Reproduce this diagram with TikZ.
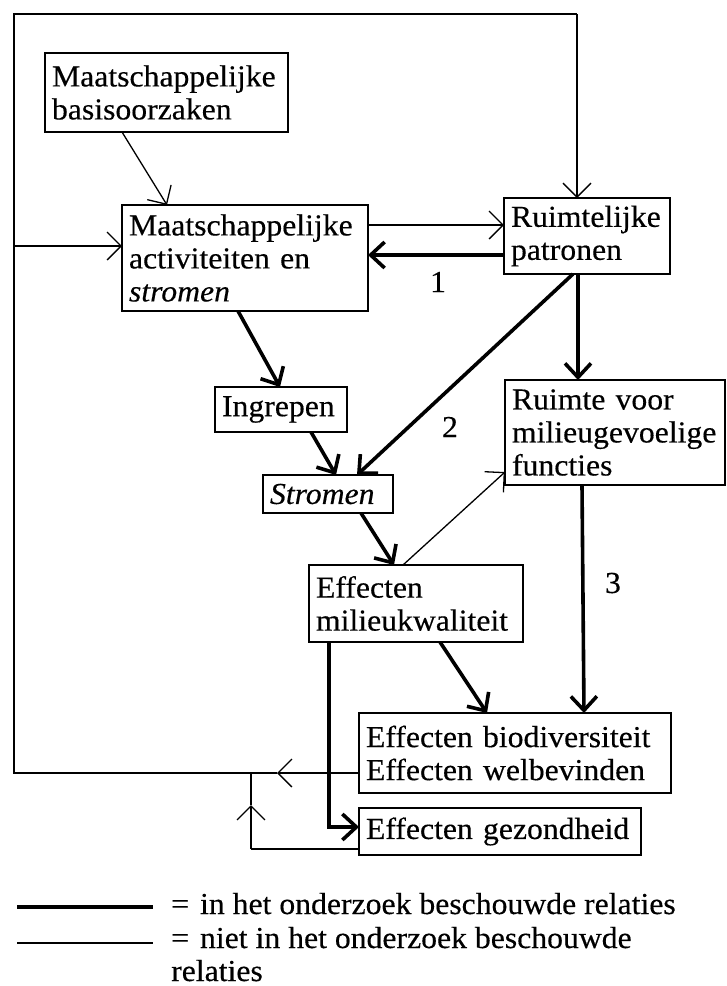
\documentclass[tikz,border=0pt]{standalone}
\usepackage{fontspec}
\setmainfont{Liberation Serif}[FakeStretch=1.04,FakeBold=0.35]
\usetikzlibrary{arrows.meta}
\hyphenpenalty=10000
\exhyphenpenalty=10000
\begin{document}
\begin{tikzpicture}[x=1pt,y=-1pt,
  txt/.style={font=\fontsize{30.5}{33}\selectfont},
  box/.style={txt, draw, line width=2.3pt, anchor=north west, align=left,
    inner xsep=7pt, inner ysep=0pt, outer sep=0pt, fill=white},
  weak/.style={line width=1.3pt},
  weakarrow/.style={weak, -{Straight Barb[length=14pt,width=28pt]}},
  strongarrow/.style={line width=3.6pt, -{Straight Barb[length=14pt,width=26pt]}},
  lbl/.style={txt, inner sep=0pt}
]
\useasboundingbox (0,0) rectangle (727,986);

% boxes
\node[box, text width=229pt, minimum height=79pt]  (basis)   at (45,53)   {Maatschappelijke\\basisoorzaken};
\node[box, text width=232pt, minimum height=106pt] (activ)   at (122,205) {Maatschappelijke\\activiteiten en\\\textit{stromen}};
\node[box, text width=152pt, minimum height=76pt]  (ruimtel) at (504,198) {Ruimtelijke\\patronen};
\node[box, text width=118pt, minimum height=45pt]  (ingrep)  at (215,387) {Ingrepen};
\node[box, text width=116pt, minimum height=38pt]  (strom)   at (263,475) {\textit{Stromen}};
\node[box, text width=206pt, minimum height=105pt] (ruimte)  at (505,380) {Ruimte voor\\milieugevoelige\\functies};
\node[box, text width=200pt, minimum height=77pt]  (milieu)  at (309,565) {Effecten\\milieukwaliteit};
\node[box, text width=298pt, minimum height=80pt]  (biodiv)  at (359,713) {Effecten biodiversiteit\\Effecten welbevinden};
\node[box, text width=268pt, minimum height=47pt]  (gezond)  at (359,808) {Effecten gezondheid};

% relation numbers
\node[lbl] (n1) at (438,282) {1};
\node[lbl] (n2) at (450,427) {2};
\node[lbl] (n3) at (613,583) {3};

% relations taken into account (heavy)
\draw[strongarrow] ([yshift=-57pt]ruimtel.north west) -- ([yshift=-50pt]activ.north east);
\draw[strongarrow] ([xshift=116pt]activ.south west) -- ([xshift=65pt]ingrep.north west);
\draw[strongarrow] ([xshift=96pt]ingrep.south west) -- ([xshift=73pt]strom.north west);
\draw[strongarrow] ([xshift=69pt]ruimtel.south west) -- ([xshift=94pt]strom.north west);
\draw[strongarrow] ([xshift=74pt]ruimtel.south west) -- ([xshift=73pt]ruimte.north west);
\draw[strongarrow] ([xshift=98pt]strom.south west) -- ([xshift=85pt]milieu.north west);
\draw[strongarrow] ([xshift=77pt]ruimte.south west) -- ([xshift=225pt]biodiv.north west);
\draw[strongarrow] ([xshift=131pt]milieu.south west) -- ([xshift=128pt]biodiv.north west);
\draw[strongarrow] ([xshift=20pt]milieu.south west) |- ([yshift=-19pt]gezond.north west);

% relations not taken into account (light)
\draw[weakarrow] ([xshift=77pt]basis.south west) -- ([xshift=45pt]activ.north west);
\draw[weakarrow] ([yshift=-20pt]activ.north east) -- ([yshift=-27pt]ruimtel.north west);
\draw[weakarrow] ([xshift=94pt]milieu.north west) -- ([yshift=13pt]ruimte.south west);

% feedback loop round the left and top
\coordinate (m1)  at (277,773);
\coordinate (fbl) at (14,773);
\coordinate (fb2) at (14,246);
\coordinate (ftl) at (14,14);
\coordinate (ftr) at (577,14);
\draw[weakarrow] ([yshift=-60pt]biodiv.north west) -- (m1);
\draw[weak] (m1) -- (fbl) -- (ftl) -- (ftr);
\draw[weakarrow] (ftr) -- ([xshift=73pt]ruimtel.north west);
\draw[weakarrow] (fb2) -- ([yshift=-41pt]activ.north west);

% feedback from health effects
\coordinate (gb) at (251,849);
\coordinate (m2) at (251,805);
\coordinate (jn) at (251,773);
\draw[weak] ([yshift=-41pt]gezond.north west) -- (gb);
\draw[weakarrow] (gb) -- (m2);
\draw[weak] (m2) -- (jn);

% legend
\coordinate (l1a) at (17,907);
\coordinate (l1b) at (153,907);
\coordinate (l2a) at (17,943);
\coordinate (l2b) at (153,943);
\draw[line width=3.6pt] (l1a) -- (l1b);
\draw[weak] (l2a) -- (l2b);
\node[lbl, anchor=base west] (leg1) at (171,914) {=\hspace{11pt}in het onderzoek beschouwde relaties};
\node[lbl, anchor=base west, align=left] (leg2) at (171,981) {=\hspace{11pt}niet in het onderzoek beschouwde\\relaties};
\end{tikzpicture}
\end{document}
